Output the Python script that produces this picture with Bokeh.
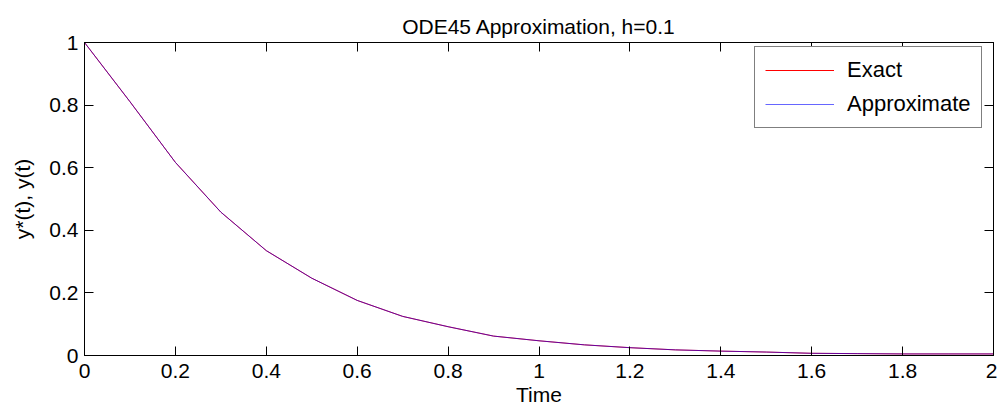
from bokeh.plotting import figure
from bokeh.models import (Range1d, LinearAxis, FixedTicker, Legend, LegendItem,
                          ColumnDataSource, CustomJSTickFormatter)
from bokeh.embed import file_html
from bokeh.resources import INLINE

# ---- data ----
t = [0.0, 0.1, 0.2, 0.3, 0.4, 0.5, 0.6, 0.7, 0.8, 0.9, 1.0,
     1.1, 1.2, 1.3, 1.4, 1.5, 1.6, 1.7, 1.8, 1.9, 2.0]
y_exact = [1.0, 0.811, 0.617, 0.458, 0.335, 0.247, 0.176, 0.125, 0.092, 0.062, 0.047,
           0.034, 0.025, 0.018, 0.014, 0.011, 0.007, 0.006, 0.005, 0.005, 0.005]
y_approx = [1.0, 0.811, 0.617, 0.458, 0.335, 0.247, 0.176, 0.125, 0.092, 0.062, 0.047,
            0.034, 0.025, 0.018, 0.014, 0.011, 0.007, 0.006, 0.005, 0.005, 0.005]
x_ticks = [0, 0.2, 0.4, 0.6, 0.8, 1.0, 1.2, 1.4, 1.6, 1.8, 2.0]
x_tick_labels = ["0", "0.2", "0.4", "0.6", "0.8", "1", "1.2", "1.4", "1.6", "1.8", "2"]
y_ticks = [0, 0.2, 0.4, 0.6, 0.8, 1.0]
y_tick_labels = ["0", "0.2", "0.4", "0.6", "0.8", "1"]
title_text = "ODE45 Approximation, h=0.1"
x_label = "Time"
y_label = "y*(t), y(t)"
series_names = ["Exact", "Approximate"]

FONT = "Liberation Sans"
FS = "21px"

src = ColumnDataSource(dict(t=t, ye=y_exact, ya=y_approx))

p = figure(width=997, height=417, output_backend="svg", toolbar_location=None,
           x_range=Range1d(0, 2), y_range=Range1d(0, 1),
           min_border_left=84, min_border_right=4, min_border_top=42, min_border_bottom=62,
           title=title_text)
p.title.align = "center"
p.title.text_font = FONT
p.title.text_font_size = FS
p.title.text_font_style = "normal"
p.title.text_color = "black"
p.grid.visible = False
p.outline_line_color = "black"
p.background_fill_color = "white"
p.border_fill_color = "white"

def style_axis(ax, show_labels):
    ax.axis_line_color = "black"
    ax.major_tick_line_color = "black"
    ax.major_tick_in = 9
    ax.major_tick_out = 0
    ax.minor_tick_line_color = None
    ax.major_label_text_font = FONT
    ax.major_label_text_color = "black"
    ax.major_label_text_font_size = FS
    ax.axis_label_text_font = FONT
    ax.axis_label_text_font_size = FS
    ax.axis_label_text_font_style = "normal"
    ax.axis_label_text_color = "black"
    if not show_labels:
        ax.formatter = CustomJSTickFormatter(code="return '';")
        ax.major_label_standoff = 0

p.xaxis.ticker = FixedTicker(ticks=x_ticks)
p.yaxis.ticker = FixedTicker(ticks=y_ticks)
p.xaxis.major_label_overrides = dict(zip(x_ticks, x_tick_labels))
p.yaxis.major_label_overrides = dict(zip(y_ticks, y_tick_labels))
style_axis(p.xaxis[0], True)
style_axis(p.yaxis[0], True)
p.xaxis.axis_label = x_label
p.yaxis.axis_label = y_label
p.xaxis.major_label_standoff = 8
p.xaxis.axis_label_standoff = 2
p.yaxis.major_label_standoff = 6
p.yaxis.axis_label_standoff = 12

top = LinearAxis(ticker=FixedTicker(ticks=x_ticks))
right = LinearAxis(ticker=FixedTicker(ticks=y_ticks))
style_axis(top, False)
style_axis(right, False)
p.add_layout(top, "above")
p.add_layout(right, "right")

r1 = p.line("t", "ye", source=src, line_color="red", line_width=1)
r2 = p.line("t", "ya", source=src, line_color="blue", line_width=1, line_alpha=0.6)

legend = Legend(items=[LegendItem(label=series_names[0], renderers=[r1]),
                       LegendItem(label=series_names[1], renderers=[r2])],
                location=(670, 227))
legend.border_line_color = "black"
legend.border_line_width = 1
legend.background_fill_color = "white"
legend.background_fill_alpha = 1
legend.label_text_font = FONT
legend.label_text_font_size = "22px"
legend.label_text_color = "black"
legend.glyph_width = 69
legend.glyph_height = 24
legend.label_height = 24
legend.label_standoff = 13
legend.padding = 10
legend.spacing = 8
legend.margin = 0
p.add_layout(legend, "center")

open("out.html", "w").write(file_html(p, INLINE))
